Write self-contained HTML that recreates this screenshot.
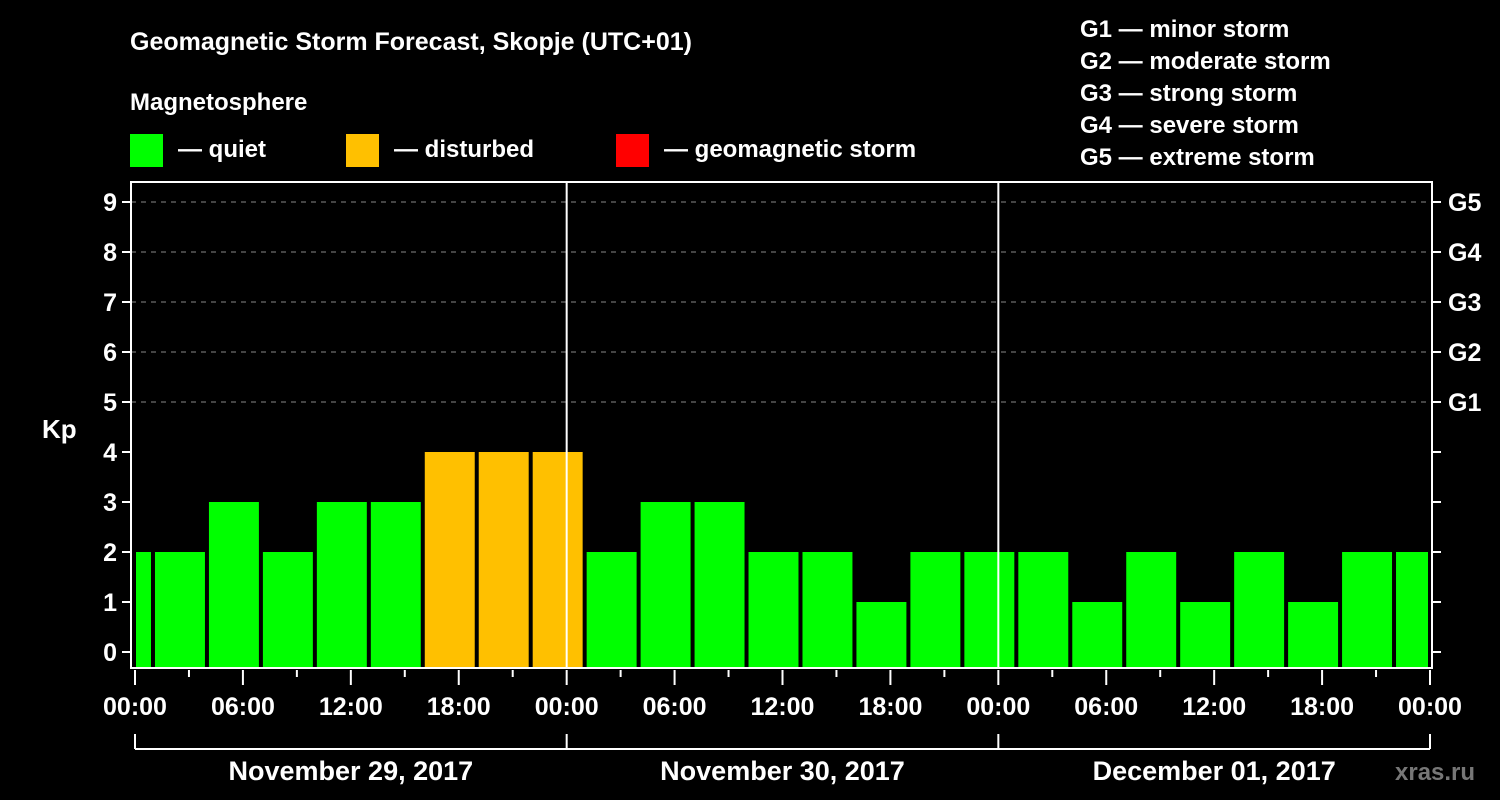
<!DOCTYPE html>
<html><head><meta charset="utf-8"><style>
html,body{margin:0;padding:0;background:#000;}
svg{display:block;font-family:"Liberation Sans",Arial,sans-serif;font-weight:bold;}
</style></head><body>
<svg id="chart" width="1500" height="800" viewBox="0 0 1500 800">
<rect width="1500" height="800" fill="#000"/>
<text x="130" y="50" fill="#fff" font-size="25">Geomagnetic Storm Forecast, Skopje (UTC+01)</text>
<text x="130" y="110" fill="#fff" font-size="24">Magnetosphere</text>
<g><rect x="130" y="134" width="33" height="33" fill="#00ff00"/><text x="178" y="157" fill="#fff" font-size="24">— quiet</text></g>
<g><rect x="346" y="134" width="33" height="33" fill="#ffc000"/><text x="394" y="157" fill="#fff" font-size="24">— disturbed</text></g>
<g><rect x="616" y="134" width="33" height="33" fill="#ff0000"/><text x="664" y="157" fill="#fff" font-size="24">— geomagnetic storm</text></g>
<g fill="#fff" font-size="24">
<text x="1080" y="37">G1 — minor storm</text>
<text x="1080" y="69">G2 — moderate storm</text>
<text x="1080" y="101">G3 — strong storm</text>
<text x="1080" y="133">G4 — severe storm</text>
<text x="1080" y="165">G5 — extreme storm</text>
</g>
<text x="42" y="438" fill="#fff" font-size="26">Kp</text>
<text x="1395" y="780" fill="#777" font-size="24">xras.ru</text>
<g id="grid"></g><g id="bars"></g><g id="axes"></g>
</svg>
<script>
const kpValues = [2,2,3,2,3,3,4,4,4,2,3,3,2,2,1,2,2,2,1,2,1,2,1,2,2];
const yTicks = [0,1,2,3,4,5,6,7,8,9];
const gLabels = ["G1","G2","G3","G4","G5"];
const xTickLabels = ["00:00","06:00","12:00","18:00","00:00","06:00","12:00","18:00","00:00","06:00","12:00","18:00","00:00"];
const dayLabels = ["November 29, 2017","November 30, 2017","December 01, 2017"];

const NS="http://www.w3.org/2000/svg";
const L=131,R=1432,T=182,B=668,X0=135,X1=1430;
const totalHours=72;
const xs=h=>X0+(X1-X0)*h/totalHours;
const ys=v=>652-50*v;
function mk(tag,attrs,parent){const e=document.createElementNS(NS,tag);for(const k in attrs)e.setAttribute(k,attrs[k]);parent.appendChild(e);return e;}
const grid=document.getElementById('grid'),bars=document.getElementById('bars'),axes=document.getElementById('axes');
// grid dashed 5-9
yTicks.filter(v=>v>=5).forEach(v=>{
  const l=mk('line',{x1:L,x2:R,y1:ys(v),y2:ys(v),stroke:'#888','stroke-dasharray':'5,5','stroke-width':1},grid);
  
  
});
// bars: first partial (0-1h), then 3h bars starting at 1h, last partial
kpValues.forEach((v,i)=>{
  let h0=i===0?0:1+3*(i-1), h1=Math.min(i===0?1:h0+3,totalHours);
  let x0=xs(h0)+(i===0?1:2), x1=xs(h1)-(i===kpValues.length-1?2:2);
  const col=v>=5?'#ff0000':(v>=4?'#ffc000':'#00ff00');
  const r=mk('rect',{x:x0,y:ys(v),width:Math.max(0,x1-x0),height:B-ys(v),fill:col},bars);
  
  
});
// day separators
[24,48].forEach(h=>{
  const l=mk('line',{x1:xs(h),x2:xs(h),y1:T,y2:B,stroke:'#fff','stroke-width':2},axes);
  
  
});
const frame=mk('rect',{x:L,y:T,width:R-L,height:B-T,fill:'none',stroke:'#fff','stroke-width':2},axes);


yTicks.forEach(v=>{
  mk('line',{x1:L-9,x2:L,y1:ys(v),y2:ys(v),stroke:'#fff','stroke-width':2},axes);
  mk('line',{x1:R,x2:R+9,y1:ys(v),y2:ys(v),stroke:'#fff','stroke-width':2},axes);
  const t=mk('text',{x:L-14,y:ys(v)+9,fill:'#fff','font-size':25,'text-anchor':'end'},axes);
  t.textContent=v;
  
  
});
gLabels.forEach((g,i)=>{
  const t=mk('text',{x:R+16,y:ys(i+5)+9,fill:'#fff','font-size':25},axes);
  t.textContent=g;
  
  
});
for(let h=0;h<=totalHours;h+=3){
  const major=h%6===0;
  mk('line',{x1:xs(h),x2:xs(h),y1:B+2,y2:B+(major?17:9),stroke:'#fff','stroke-width':2},axes);
}
xTickLabels.forEach((s,i)=>{
  const t=mk('text',{x:xs(i*6),y:715,fill:'#fff','font-size':25,'text-anchor':'middle'},axes);
  t.textContent=s;
  
  
});
mk('line',{x1:X0,x2:X1,y1:749,y2:749,stroke:'#fff','stroke-width':2},axes);
[0,24,48,72].forEach(h=>mk('line',{x1:xs(h),x2:xs(h),y1:734,y2:749,stroke:'#fff','stroke-width':2},axes));
dayLabels.forEach((s,i)=>{
  const t=mk('text',{x:xs(i*24+12),y:780,fill:'#fff','font-size':27,'text-anchor':'middle'},axes);
  t.textContent=s;
  
  
});
</script>
</body></html>
